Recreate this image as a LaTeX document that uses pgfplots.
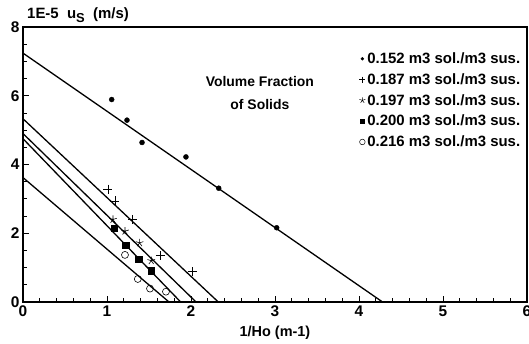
\documentclass[border=0pt]{standalone}
\usepackage{pgfplots}
\pgfplotsset{compat=1.18}
\usepackage{fontspec}
\setmainfont{Liberation Sans}
\begin{document}
\begin{tikzpicture}
\begin{axis}[
  name=ax,
  scale only axis, width=504bp, height=275bp,
  xmin=0, xmax=6, ymin=0, ymax=8,
  xtick={0,1,2,3,4,5,6}, ytick={0,2,4,6,8},
  minor x tick num=4, minor y tick num=3,
  tick align=inside, xtick pos=bottom, ytick pos=left,
  major tick length=6bp, minor tick length=4bp,
  axis line style={line width=1.5bp},
  tick style={line width=0.8bp, black},
  /pgf/number format/assume math mode=true,
  tick label style={font=\fontsize{15.5}{17}\selectfont\bfseries},
  xlabel={1/Ho (m-1)},
  xlabel style={font=\fontsize{14.5}{16}\selectfont\bfseries, yshift=-3bp},
  legend image code/.code={\draw[#1] plot coordinates {(0.1cm,0cm)};},
  legend style={draw=none, fill=none, at={(rel axis cs:0.667,0.915)}, anchor=north west,
    font=\fontsize{15}{18}\selectfont\bfseries, row sep=4.5bp, inner sep=0pt},
  legend cell align=left,
]
% fitted lines
\addplot[black, line width=1.3bp, no marks, forget plot] coordinates {(0,7.24) (4.28,0)};
\addplot[black, line width=1.3bp, no marks, forget plot] coordinates {(0,5.33) (2.325,0)};
\addplot[black, line width=1.3bp, no marks, forget plot] coordinates {(0,4.90) (2.06,0)};
\addplot[black, line width=1.3bp, no marks, forget plot] coordinates {(0,4.75) (1.877,0)};
\addplot[black, line width=1.3bp, no marks, forget plot] coordinates {(0,3.62) (1.738,0)};
% data
\addplot[black, only marks, mark=*, mark size=2.5bp, forget plot] coordinates {
 (1.056,5.89) (1.238,5.29) (1.417,4.64) (1.94,4.22) (2.33,3.31) (3.02,2.16)};
\addplot[black, only marks, mark=+, mark size=4.5bp, line width=0.6bp, forget plot] coordinates {
 (1.01,3.28) (1.095,2.94) (1.304,2.40) (1.635,1.35) (2.015,0.88)};
\addplot[black, only marks, mark=star, mark size=4bp, line width=0.6bp, forget plot] coordinates {
 (1.071,2.40) (1.214,2.06) (1.388,1.72) (1.527,1.20)};
\addplot[black, only marks, mark=square*, mark size=3.2bp, forget plot] coordinates {
 (1.083,2.14) (1.223,1.66) (1.377,1.24) (1.527,0.91)};
\addplot[black, only marks, mark=o, mark size=3.5bp, line width=0.6bp, forget plot] coordinates {
 (1.214,1.37) (1.367,0.67) (1.512,0.39) (1.702,0.30)};
% legend
\addlegendimage{black, mark=*, mark size=1.5bp}
\addlegendentry{0.152 m3 sol./m3 sus.}
\addlegendimage{black, mark=+, mark size=3bp, line width=0.5bp}
\addlegendentry{0.187 m3 sol./m3 sus.}
\addlegendimage{black, mark=star, mark size=3bp, line width=0.5bp}
\addlegendentry{0.197 m3 sol./m3 sus.}
\addlegendimage{black, mark=square*, mark size=2.2bp}
\addlegendentry{0.200 m3 sol./m3 sus.}
\addlegendimage{black, mark=o, mark size=2.8bp, line width=0.5bp}
\addlegendentry{0.216 m3 sol./m3 sus.}
\node[font=\fontsize{14}{23}\selectfont\bfseries, align=center] at (axis cs:2.82,6.09) {Volume Fraction\\of Solids};
\end{axis}
\node[font=\fontsize{15}{16}\selectfont\bfseries, anchor=base west, inner sep=0pt] at ([shift={(4bp,8bp)}]ax.north west)
  {1E-5\ \ u\raisebox{-0.45ex}{\fontsize{13}{13}\selectfont S}\ \ (m/s)};
\pgfresetboundingbox
\path ([shift={(-23bp,-42bp)}]ax.south west) rectangle ([shift={(2bp,27bp)}]ax.north east);
\end{tikzpicture}
\end{document}
